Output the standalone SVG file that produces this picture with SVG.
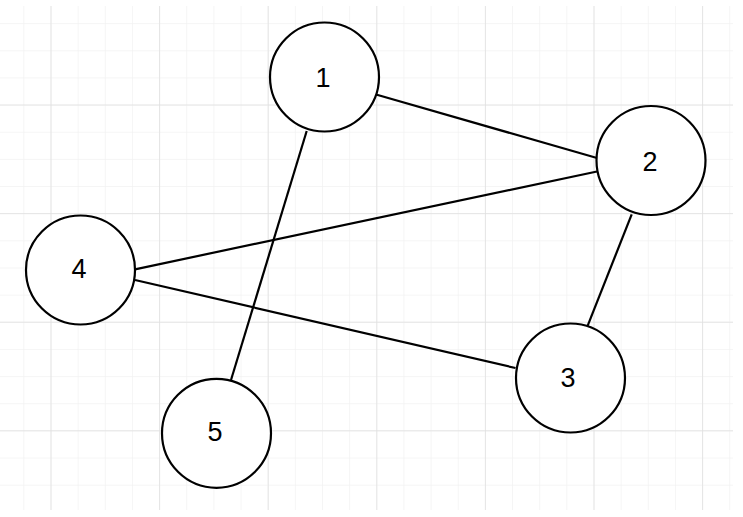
<svg xmlns="http://www.w3.org/2000/svg" width="743" height="517" viewBox="0 0 743 517">
<defs>
<pattern id="minor" x="-3.8" y="-4" width="27.15" height="27.15" patternUnits="userSpaceOnUse">
<path d="M0 0 V27.15 M0 0 H27.15" fill="none" stroke="#f2f2f2" stroke-width="1.5"/>
</pattern>
<pattern id="major" x="50.5" y="104.5" width="108.6" height="108.6" patternUnits="userSpaceOnUse">
<path d="M0 0 V108.6 M0 0 H108.6" fill="none" stroke="#e0e0e0" stroke-width="1.5"/>
</pattern>
</defs>
<style>
.node circle { fill: #ffffff; stroke: #000000; stroke-width: 2.2; }
.lbl { font-family: "Liberation Sans", Arial, sans-serif; fill: #000000; text-anchor: middle; }
.edges line { stroke: #000000; stroke-width: 2.2; }
</style>
<rect x="0" y="0" width="743" height="517" fill="#ffffff"/>
<rect x="0" y="6" width="733" height="504" fill="url(#minor)"/>
<rect x="0" y="6" width="733" height="504" fill="url(#major)"/>
<g id="edges" class="edges">
<line x1="376" y1="94.5" x2="597" y2="158"/>
<line x1="306.7" y1="131" x2="231" y2="380"/>
<line x1="597" y1="171.5" x2="135" y2="269.3"/>
<line x1="631.7" y1="214.3" x2="587.3" y2="326.7"/>
<line x1="135" y1="280" x2="515.5" y2="368"/>
</g>
<g id="node1" class="node"><circle cx="324.5" cy="77" r="54.5"/><text class="lbl" x="323" y="87" font-size="27">1</text></g>
<g id="node2" class="node"><circle cx="651" cy="160.5" r="54.5"/><text class="lbl" x="650" y="171" font-size="27">2</text></g>
<g id="node3" class="node"><circle cx="570.5" cy="378" r="54.5"/><text class="lbl" x="568" y="387" font-size="27">3</text></g>
<g id="node4" class="node"><circle cx="80.5" cy="270" r="54.5"/><text class="lbl" x="79" y="278" font-size="27">4</text></g>
<g id="node5" class="node"><circle cx="216.5" cy="433.3" r="54.5"/><text class="lbl" x="215" y="441" font-size="27">5</text></g>
</svg>
